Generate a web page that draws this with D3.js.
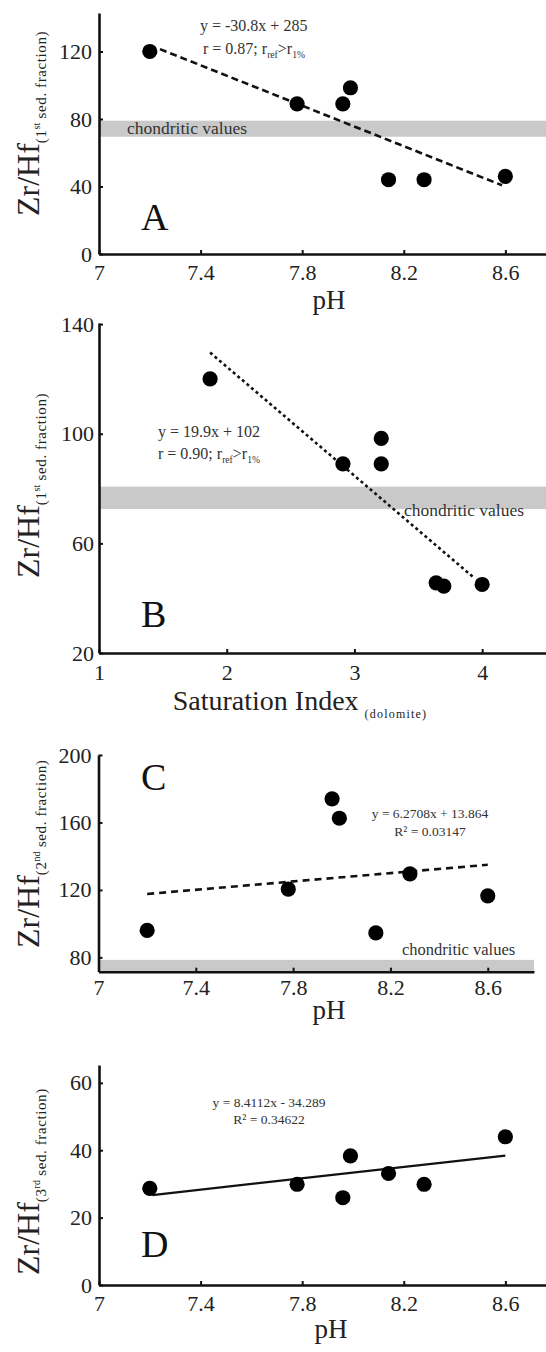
<!DOCTYPE html>
<html>
<head>
<meta charset="utf-8">
<script src="https://cdn.jsdelivr.net/npm/d3@7"></script>
<style>
  body { margin: 0; background: #fff; }
  svg { display: block; }
</style>
</head>
<body>
<script>
// values
const pH = [7.2, 7.78, 7.96, 7.99, 8.14, 8.28, 8.6];
const satIndex = [1.87, 2.91, 3.21, 3.21, 3.64, 3.7, 4.0];

const zrHfA = [120, 89, 89, 98.5, 44, 44, 46];
const zrHfB = [120, 89, 98.3, 89, 45.6, 44.4, 45];
const zrHfC = [96, 120.5, 174, 162.5, 94.5, 129.5, 116.5];
const zrHfD = [28.7, 29.9, 25.9, 38.3, 33.1, 29.9, 44];

const trendA = [[7.24, 121.4], [8.587, 40.7]];
const trendB = [[1.87, 129.6], [3.93, 47.7]];
const trendC = [[7.2, 117.6], [8.6, 134.9]];
const trendD = [[7.21, 26.7], [8.6, 38.4]];

const chondriticA = [69.5, 79];
const chondriticB = [72.5, 80.7];
const chondriticC = [71.5, 78.5];

const pHTicks = [7, 7.4, 7.8, 8.2, 8.6];
const siTicks = [1, 2, 3, 4];
const yTicksA = [0, 40, 80, 120];
const yTicksB = [20, 60, 100, 140];
const yTicksC = [80, 120, 160, 200];
const yTicksD = [0, 20, 40, 60];

const eqA = ['y = -30.8x + 285', 'r = 0.87; r'];
const eqB = ['y = 19.9x + 102', 'r = 0.90; r'];
const eqC = ['y = 6.2708x + 13.864', 'R\u00b2 = 0.03147'];
const eqD = ['y = 8.4112x - 34.289', 'R\u00b2 = 0.34622'];

const fractions = [['1', 'st'], ['1', 'st'], ['2', 'nd'], ['3', 'rd']];

const W = 546, H = 1352;
const FONT = '"Liberation Serif", "Times New Roman", serif';

let svg = d3.select('body').append('svg')
  .attr('width', W).attr('height', H)
  .style('background', '#fff')
  .style('font-family', FONT);

function panel(p) {
  let g = svg.append('g');
  let x = d3.scaleLinear().domain(p.xDomain).range(p.xRange);
  let y = d3.scaleLinear().domain(p.yDomain).range(p.yRange);

  // chondritic band
  if (p.band) {
    g.append('rect')
      .attr('x', p.xRange[0])
      .attr('width', p.xRange[1] - p.xRange[0])
      .attr('y', y(p.band[1]))
      .attr('height', y(p.band[0]) - y(p.band[1]))
      .attr('fill', '#c9c9c9');
    g.append('text')
      .attr('x', p.bandLabel[0]).attr('y', p.bandLabel[1])
      .attr('font-size', p.bandLabel[2])
      .attr('fill', '#333')
      .text('chondritic values');
  }

  // axes
  let xAxis = g.append('g')
    .attr('transform', `translate(0,${p.yRange[0]})`)
    .call(d3.axisBottom(x).tickValues(p.xTicks).tickSize(-4).tickSizeOuter(0)
      .tickPadding(p.xPad).tickFormat(d3.format('')));
  let yAxis = g.append('g')
    .attr('transform', `translate(${p.xRange[0]},0)`)
    .call(d3.axisLeft(y).tickValues(p.yTicks).tickSize(-4).tickSizeOuter(0)
      .tickPadding(p.yPad).tickFormat(d3.format('')));
  [xAxis, yAxis].forEach(a => {
    a.attr('font-family', FONT).attr('font-size', 22);
    a.select('.domain').attr('stroke', '#111').attr('stroke-width', 2.6);
    a.selectAll('.tick line').attr('stroke', '#111').attr('stroke-width', 2);
    a.selectAll('.tick text').attr('fill', '#222');
  });

  // trend line
  g.append('path')
    .datum(p.trend)
    .attr('d', d3.line().x(d => x(d[0])).y(d => y(d[1])))
    .attr('fill', 'none')
    .attr('stroke', '#111')
    .attr('stroke-width', p.trendWidth)
    .attr('stroke-dasharray', p.dash);

  // points
  g.selectAll('circle')
    .data(p.xs.map((v, i) => [v, p.ys[i]]))
    .enter()
    .append('circle')
    .attr('cx', d => x(d[0]))
    .attr('cy', d => y(d[1]))
    .attr('r', 7.6)
    .attr('fill', '#000');

  // regression text
  let e1 = g.append('text')
    .attr('x', p.eqPos[0]).attr('y', p.eqPos[1])
    .attr('font-size', p.eqSize).attr('fill', '#333')
    .attr('text-anchor', p.eqAnchor);
  e1.text(p.eq[0]);
  let e2 = g.append('text')
    .attr('x', p.eqPos[2]).attr('y', p.eqPos[3])
    .attr('font-size', p.eqSize).attr('fill', '#333')
    .attr('text-anchor', p.eqAnchor);
  e2.append('tspan').text(p.eq[1]);
  if (p.eq[1].endsWith('r')) {
    e2.append('tspan').attr('dy', 4).attr('font-size', p.eqSize * 0.6).text('ref');
    e2.append('tspan').attr('dy', -4).text('>r');
    e2.append('tspan').attr('dy', 4).attr('font-size', p.eqSize * 0.6).text('1%');
  }

  // panel letter
  g.append('text')
    .attr('x', 141).attr('y', p.letterY)
    .attr('font-size', 38).attr('fill', '#111')
    .text(p.letter);

  // x title
  let xt = g.append('text')
    .attr('x', p.xTitle[0]).attr('y', p.xTitle[1])
    .attr('font-size', p.xTitle[2]).attr('fill', '#222')
    .attr('text-anchor', 'middle');
  xt.append('tspan').text(p.xTitleText);
  if (p.xTitleSub) {
    xt.append('tspan').attr('dy', 8).attr('dx', 6).attr('font-size', 12)
      .attr('letter-spacing', 1.2).text(p.xTitleSub);
  }

  // y title
  let yt = g.append('text')
    .attr('transform', `translate(39,${p.yTitleY}) rotate(-90)`)
    .attr('fill', '#222');
  yt.append('tspan').attr('font-size', 32).text('Zr/Hf');
  yt.append('tspan').attr('font-size', 15).attr('dy', 7).attr('letter-spacing', 0.6).text('(' + p.frac[0]);
  yt.append('tspan').attr('font-size', 10).attr('dy', -6).text(p.frac[1]);
  yt.append('tspan').attr('font-size', 15).attr('dy', 6).attr('letter-spacing', 0.6).text(' sed. fraction)');
}

panel({
  letter: 'A', letterY: 230,
  xs: pH, ys: zrHfA, trend: trendA, dash: '7,4', trendWidth: 2.6,
  xDomain: [7, 8.76], xRange: [99, 546], yDomain: [0, 142.8], yRange: [254, 13],
  xTicks: pHTicks, yTicks: yTicksA, xPad: 10, yPad: 7,
  band: chondriticA, bandLabel: [127, 134, 17.5],
  eq: eqA, eqPos: [200, 31, 203, 54], eqSize: 16, eqAnchor: 'start',
  xTitle: [329, 309, 27], xTitleText: 'pH',
  yTitleY: 216, frac: fractions[0]
});

panel({
  letter: 'B', letterY: 627,
  xs: satIndex, ys: zrHfB, trend: trendB, dash: '3,3', trendWidth: 2.6,
  xDomain: [1, 4.5], xRange: [99, 546], yDomain: [20, 140.4], yRange: [653, 323],
  xTicks: siTicks, yTicks: yTicksB, xPad: 11, yPad: 5,
  band: chondriticB, bandLabel: [404, 516, 17.5],
  eq: eqB, eqPos: [158, 437, 158, 459], eqSize: 16, eqAnchor: 'start',
  xTitle: [300, 710, 28], xTitleText: 'Saturation Index', xTitleSub: '(dolomite)',
  yTitleY: 578, frac: fractions[1]
});

panel({
  letter: 'C', letterY: 790,
  xs: pH, ys: zrHfC, trend: trendC, dash: '7,5', trendWidth: 2.6,
  xDomain: [7, 8.79], xRange: [98.5, 534], yDomain: [71.5, 200], yRange: [971.7, 755],
  xTicks: pHTicks, yTicks: yTicksC, xPad: 8, yPad: 7,
  band: chondriticC, bandLabel: [402, 955, 16.5],
  eq: eqC, eqPos: [430, 818, 430, 836], eqSize: 13.5, eqAnchor: 'middle',
  xTitle: [329, 1019, 27], xTitleText: 'pH',
  yTitleY: 948, frac: fractions[2]
});

panel({
  letter: 'D', letterY: 1257,
  xs: pH, ys: zrHfD, trend: trendD, dash: null, trendWidth: 2.2,
  xDomain: [7, 8.76], xRange: [99, 546], yDomain: [0, 65.3], yRange: [1285, 1065],
  xTicks: pHTicks, yTicks: yTicksD, xPad: 10, yPad: 7,
  band: null,
  eq: eqD, eqPos: [269, 1107, 269, 1124], eqSize: 13.5, eqAnchor: 'middle',
  xTitle: [331, 1338, 27], xTitleText: 'pH',
  yTitleY: 1275, frac: fractions[3]
});
</script>
</body>
</html>
